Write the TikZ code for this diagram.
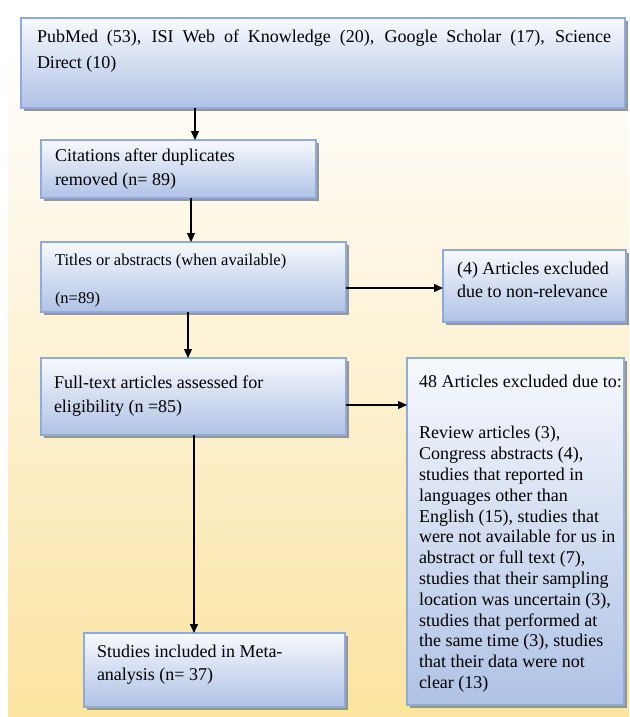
\documentclass[tikz,border=0pt]{standalone}
\usepackage{fontspec}
\setmainfont{Liberation Serif}
\usetikzlibrary{arrows.meta,shadows}
\definecolor{bgbot}{HTML}{FCE4A0}
\definecolor{bgmid}{HTML}{FCEDC4}
\definecolor{bglight}{HTML}{FEF9EC}
\definecolor{boxtop}{HTML}{F7F9FD}
\definecolor{boxbot}{HTML}{AFC2E5}
\definecolor{boxline}{HTML}{8EABDC}
\pgfdeclareverticalshading{bgshade}{100bp}{color(0bp)=(bgbot); color(25bp)=(bgbot); color(42bp)=(bgmid); color(62bp)=(bglight); color(72bp)=(white); color(100bp)=(white)}
\begin{document}
\begin{tikzpicture}[x=1pt,y=-1pt,
  box/.style={draw=boxline, line width=1.2pt, top color=boxtop, bottom color=boxbot, rectangle, inner sep=0pt, outer sep=0pt, anchor=north west,
    drop shadow={shadow xshift=3pt, shadow yshift=-3pt, fill=black!45, opacity=0.9}},
  txt/.style={anchor=north west, inner sep=0pt, outer sep=0pt, align=left},
  arr/.style={-{Triangle[length=9pt,width=8pt]}, line width=1.1pt, black}]
\useasboundingbox (0,0) rectangle (629,717);
\fill[white] (0,0) rectangle (629,717);
\shade[shading=bgshade] (8,0) rectangle (629,717);

% boxes
\node[box, minimum width=604pt, minimum height=90pt] (b1) at (21,18) {};
\node[box, minimum width=275pt, minimum height=58pt] (b2) at (41,140) {};
\node[box, minimum width=305pt, minimum height=70pt] (b3) at (41,242) {};
\node[box, minimum width=183pt, minimum height=72pt] (b4) at (443,250) {};
\node[box, minimum width=305pt, minimum height=77pt] (b5) at (41,358) {};
\node[box, minimum width=217pt, minimum height=347pt] (b6) at (407,358) {};
\node[box, minimum width=261pt, minimum height=74pt] (b7) at (84,633) {};

% texts
\node[txt, text width=574pt, align=justify, font=\fontsize{18}{26}\selectfont] (t1) at (37,24.8)
  {\strut PubMed (53), ISI Web of Knowledge (20), Google Scholar (17), Science\linebreak Direct (10)};
\node[txt, font=\fontsize{18}{24}\selectfont] (t2) at (55,144.2)
  {\strut Citations after duplicates\\removed (n= 89)};
\node[txt, font=\fontsize{16.5}{19}\selectfont] (t3) at (55,251.7)
  {\strut Titles or abstracts (when available)\\[19pt](n=89)};
\node[txt, font=\fontsize{18}{23}\selectfont] (t4) at (457,257.9)
  {\strut (4) Articles excluded\\due to non-relevance};
\node[txt, font=\fontsize{18}{24}\selectfont] (t5) at (54,371.2)
  {\strut Full-text articles assessed for\\eligibility (n =85)};
\node[txt, font=\fontsize{18}{20.8}\selectfont] (t6) at (419,373.4)
  {\strut 48 Articles excluded due to:\\[30.2pt]Review articles (3),\\Congress abstracts (4),\\studies that reported in\\languages other than\\English (15), studies that\\were not available for us in\\abstract or full text (7),\\studies that their sampling\\location was uncertain (3),\\studies that performed at\\the same time (3), studies\\that their data were not\\clear (13)};
\node[txt, font=\fontsize{18}{23}\selectfont] (t7) at (97,640.9)
  {\strut Studies included in Meta-\\analysis (n= 37)};

% connectors
\coordinate (v1) at (195,0);
\coordinate (v2) at (191,0);
\coordinate (v4) at (188,0);
\coordinate (v6) at (194,0);
\coordinate (h3) at (0,288);
\coordinate (h5) at (0,405);
\draw[arr] (b1.south -| v1) -- (b2.north -| v1);
\draw[arr] (b2.south -| v2) -- (b3.north -| v2);
\draw[arr] (b3.east |- h3) -- (b4.west |- h3);
\draw[arr] (b3.south -| v4) -- (b5.north -| v4);
\draw[arr] (b5.east |- h5) -- (b6.west |- h5);
\draw[arr] (b5.south -| v6) -- (b7.north -| v6);
\end{tikzpicture}
\end{document}
